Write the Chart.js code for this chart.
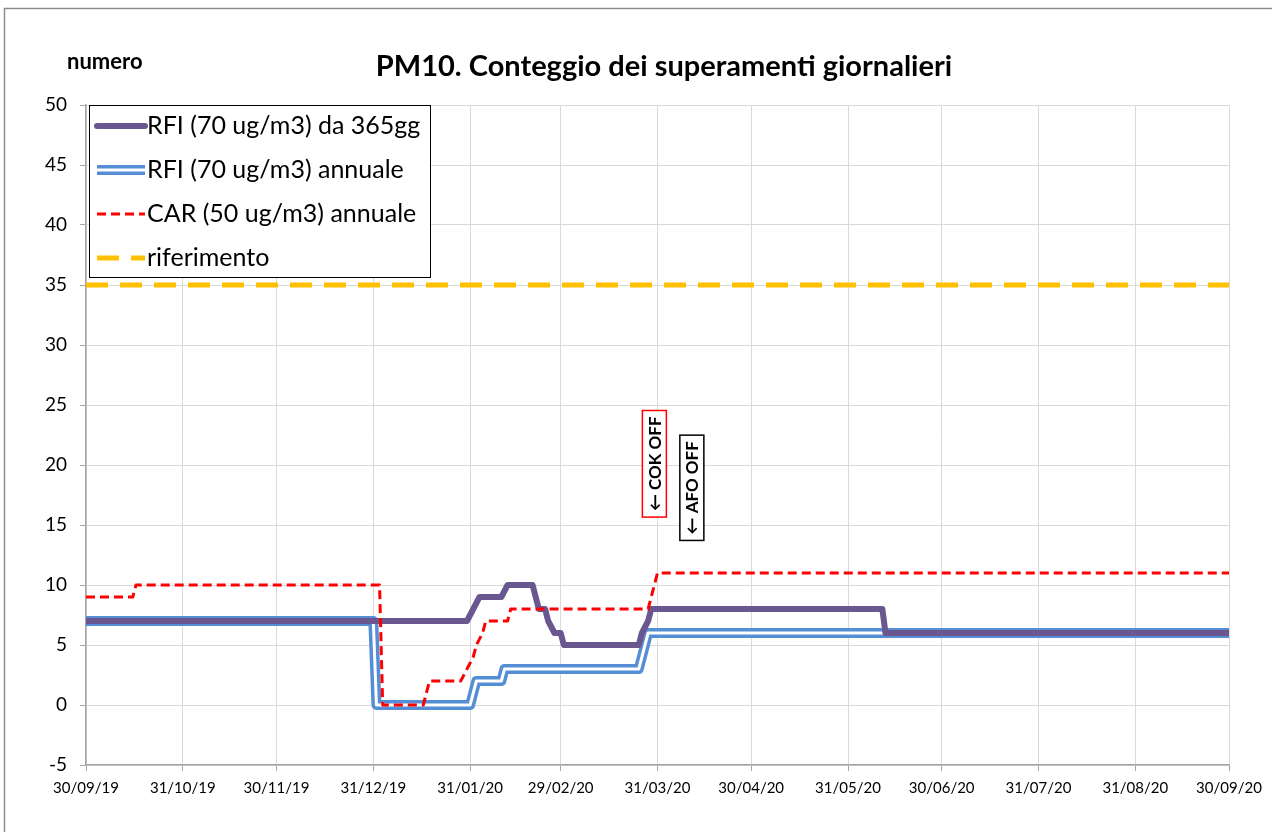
<!DOCTYPE html>
<html>
<head>
<meta charset="utf-8">
<script src="https://cdn.jsdelivr.net/npm/chart.js@4.4.1/dist/chart.umd.min.js"></script>
<style>
  html, body { margin: 0; padding: 0; background: #fff; }
  #wrap { position: relative; width: 1272px; height: 832px; }
</style>
</head>
<body>
<div id="wrap"><canvas id="chart" width="1272" height="832"></canvas></div>
<script>
// 🟢 x = days since 30/09/19
const tickDays = [0, 31, 61, 92, 123, 152, 183, 213, 244, 274, 305, 336, 366];
const tickLabels = ['30/09/19', '31/10/19', '30/11/19', '31/12/19', '31/01/20', '29/02/20',
  '31/03/20', '30/04/20', '31/05/20', '30/06/20', '31/07/20', '31/08/20', '30/09/20'];

// RFI (70 ug/m3) da 365gg
const rfi365Days = [0, 122, 124, 126, 133, 135, 143, 144, 145, 147, 148, 150, 152, 153, 177, 178, 180, 181, 255, 256, 366];
const rfi365Vals = [7, 7, 8, 9, 9, 10, 10, 9, 8, 8, 7, 6, 6, 5, 5, 6, 7, 8, 8, 6, 6];

// RFI (70 ug/m3) annuale
const rfiAnnDays = [0, 92, 93, 123, 124, 125, 133, 134, 177, 178, 179, 180, 366];
const rfiAnnVals = [7, 7, 0, 0, 1, 2, 2, 3, 3, 4, 5, 6, 6];

// CAR (50 ug/m3) annuale
const carDays = [0, 15, 16, 94, 95, 108, 109, 110, 120, 122, 124, 125, 127, 128, 135, 136, 180, 181, 182, 183, 366];
const carVals = [9, 9, 10, 10, 0, 0, 1, 2, 2, 3, 4, 5, 6, 7, 7, 8, 8, 9, 10, 11, 11];

// riferimento
const refDays = [0, 366];
const refVals = [35, 35];

// note verticali
const notes = [
  { day: 182, value: 20.1, text: '← COK OFF', color: '#FF0000' },
  { day: 194, value: 18.1, text: '← AFO OFF', color: '#000000' }
];

const toPoints = (xs, ys) => xs.map((x, i) => ({ x: x, y: ys[i] }));

const FONT = 'Lato, "Open Sans", sans-serif';
const PURPLE = '#6B5790';
const BLUE = '#558ED5';
const RED = '#FF0000';
const YELLOW = '#FFC000';

// 🟢 frame + title + "numero"
const framePlugin = {
    id: 'frame',
    beforeDraw(chart) {
        const ctx = chart.ctx;
        ctx.save();
        ctx.strokeStyle = '#8C8C8C';
        ctx.lineWidth = 1.5;
        ctx.beginPath();
        ctx.moveTo(4.5, 832);
        ctx.lineTo(4.5, 8.5);
        ctx.lineTo(1272, 8.5);
        ctx.stroke();
        ctx.restore();
    },
    afterDraw(chart) {
        const ctx = chart.ctx;
        ctx.save();
        ctx.fillStyle = '#000';
        ctx.textBaseline = 'middle';
        ctx.textAlign = 'center';
        ctx.font = 'bold 29px ' + FONT;
        ctx.fillText('PM10. Conteggio dei superamenti giornalieri', 664, 67);
        ctx.textAlign = 'left';
        ctx.font = 'bold 22px ' + FONT;
        ctx.fillText('numero', 67, 62);
        ctx.restore();
    }
};

// 🟢 legend box inside the plot
const legendPlugin = {
    id: 'boxLegend',
    afterDatasetsDraw(chart) {
        const ctx = chart.ctx;
        const area = chart.chartArea;
        const x0 = area.left + 3, y0 = area.top, w = 341, h = 172;
        ctx.save();
        ctx.fillStyle = '#fff';
        ctx.fillRect(x0, y0, w, h);
        ctx.strokeStyle = '#000';
        ctx.lineWidth = 1;
        ctx.strokeRect(x0 + 0.5, y0 + 0.5, w, h);

        const items = chart.data.datasets.filter(d => !d.hideInLegend);
        items.forEach((ds, i) => {
            const y = y0 + 21 + i * 44;
            const lx1 = x0 + 8, lx2 = x0 + 56;
            ctx.setLineDash(ds.borderDash || []);
            ctx.lineCap = ds.borderCapStyle || 'butt';
            ctx.strokeStyle = ds.borderColor;
            ctx.lineWidth = ds.borderWidth;
            ctx.beginPath();
            ctx.moveTo(lx1, y);
            ctx.lineTo(lx2, y);
            ctx.stroke();
            if (ds.compound) {
                ctx.strokeStyle = '#fff';
                ctx.lineWidth = 3;
                ctx.beginPath();
                ctx.moveTo(lx1 - 2, y);
                ctx.lineTo(lx2 + 2, y);
                ctx.stroke();
            }
            ctx.setLineDash([]);
            ctx.fillStyle = '#000';
            ctx.font = '25px ' + FONT;
            ctx.textAlign = 'left';
            ctx.textBaseline = 'middle';
            ctx.fillText(ds.label, x0 + 58, y);
        });
        ctx.restore();
    }
};

// 🟢 rotated text notes
const notesPlugin = {
    id: 'notes',
    afterDatasetsDraw(chart) {
        const ctx = chart.ctx;
        const xs = chart.scales.x, ys = chart.scales.y;
        ctx.save();
        ctx.font = 'bold 17px ' + FONT;
        notes.forEach(n => {
            const cx = xs.getPixelForValue(n.day);
            const cy = ys.getPixelForValue(n.value);
            const tw = ctx.measureText(n.text).width;
            const bw = 24, bh = tw + 12;
            ctx.fillStyle = '#fff';
            ctx.fillRect(cx - bw / 2, cy - bh / 2, bw, bh);
            ctx.strokeStyle = n.color;
            ctx.lineWidth = 1.5;
            ctx.strokeRect(cx - bw / 2, cy - bh / 2, bw, bh);
            ctx.translate(cx, cy);
            ctx.rotate(-Math.PI / 2);
            ctx.fillStyle = '#000';
            ctx.textAlign = 'center';
            ctx.textBaseline = 'middle';
            ctx.fillText(n.text, 0, 1);
            ctx.setTransform(1, 0, 0, 1, 0, 0);
        });
        ctx.restore();
    }
};

const ctx = document.getElementById('chart').getContext('2d');
new Chart(ctx, {
    type: 'line',
    data: {
        datasets: [
            {
                label: 'RFI (70 ug/m3) da 365gg',
                data: toPoints(rfi365Days, rfi365Vals),
                borderColor: PURPLE, borderWidth: 6, borderCapStyle: 'round',
                order: 2
            },
            {
                label: 'RFI (70 ug/m3) annuale',
                data: toPoints(rfiAnnDays, rfiAnnVals),
                borderColor: BLUE, borderWidth: 10, compound: true,
                order: 4
            },
            {
                label: 'RFI (70 ug/m3) annuale (centro)',
                data: toPoints(rfiAnnDays, rfiAnnVals),
                borderColor: '#fff', borderWidth: 3, hideInLegend: true,
                order: 3
            },
            {
                label: 'CAR (50 ug/m3) annuale',
                data: toPoints(carDays, carVals),
                borderColor: RED, borderWidth: 3, borderDash: [9, 5],
                order: 1
            },
            {
                label: 'riferimento',
                data: toPoints(refDays, refVals),
                borderColor: YELLOW, borderWidth: 5, borderDash: [22, 12],
                order: 0
            }
        ]
    },
    options: {
        responsive: false,
        animation: false,
        layout: { padding: { left: 0, top: 105, right: 43, bottom: 27 } },
        elements: {
            point: { radius: 0 },
            line: { tension: 0, borderJoinStyle: 'round', fill: false }
        },
        plugins: {
            legend: { display: false },
            title: { display: false },
            tooltip: { enabled: false }
        },
        scales: {
            x: {
                type: 'linear',
                min: 0,
                max: 366,
                afterBuildTicks: scale => { scale.ticks = tickDays.map(v => ({ value: v })); },
                afterFit: scale => { scale.height = 40; },
                ticks: {
                    autoSkip: false,
                    maxRotation: 0,
                    padding: 8,
                    color: '#000',
                    font: { family: FONT, size: 15 },
                    callback: v => tickLabels[tickDays.indexOf(v)]
                },
                grid: { color: '#D9D9D9', tickColor: '#A6A6A6', tickLength: 6 },
                border: { color: '#A6A6A6', width: 1.5 }
            },
            y: {
                min: -5,
                max: 50,
                afterFit: scale => { scale.width = 86; },
                ticks: {
                    stepSize: 5,
                    padding: 13,
                    color: '#000',
                    font: { family: FONT, size: 19 }
                },
                grid: { color: '#D9D9D9', tickColor: '#A6A6A6', tickLength: 6 },
                border: { color: '#A6A6A6', width: 1.5 }
            }
        }
    },
    plugins: [framePlugin, legendPlugin, notesPlugin]
});
</script>
</body>
</html>
